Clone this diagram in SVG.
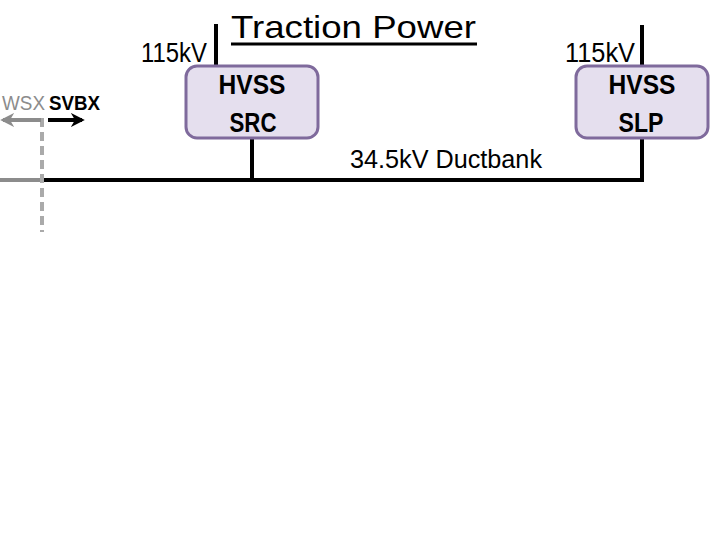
<svg xmlns="http://www.w3.org/2000/svg" width="720" height="540" viewBox="0 0 720 540">
<style>
text{font-family:"Liberation Sans","Open Sans",sans-serif;}
.box{fill:#e5dfee;stroke:#7f6a9c;stroke-width:3;}
.lbl{font-weight:bold;font-size:27px;fill:#000;text-anchor:middle;}
.kv{font-size:27px;fill:#000;}
.ln{stroke:#000;stroke-width:4;fill:none;}
</style>
<defs>
<marker id="ab" viewBox="0 0 10 10" refX="8" refY="5" markerWidth="3.5" markerHeight="3.5" orient="auto"><path d="M0,0 L10,5 L0,10 L3,5 z" fill="#000"/></marker>
<marker id="ag" viewBox="0 0 10 10" refX="8" refY="5" markerWidth="3.5" markerHeight="3.5" orient="auto"><path d="M0,0 L10,5 L0,10 L3,5 z" fill="#8c8c8c"/></marker>
</defs>
<rect width="720" height="540" fill="#fff"/>
<g id="title">
<text x="231" y="38" font-size="32" textLength="245" lengthAdjust="spacingAndGlyphs">Traction Power</text>
<line x1="231" y1="44" x2="477" y2="44" stroke="#000" stroke-width="3"/>
</g>
<g id="connectors">
<line class="ln" x1="216" y1="24" x2="216" y2="66"/>
<line class="ln" x1="642" y1="25" x2="642" y2="66"/>
<line class="ln" x1="252" y1="138" x2="252" y2="180"/>
<polyline class="ln" points="42,180 642,180 642,138"/>
<line x1="0" y1="180" x2="42" y2="180" stroke="#8c8c8c" stroke-width="4"/>
<line x1="42" y1="118" x2="42" y2="232" stroke="#aaaaaa" stroke-width="4" stroke-dasharray="9,5"/>
<line x1="41" y1="120" x2="3" y2="120" stroke="#8c8c8c" stroke-width="4" marker-end="url(#ag)"/>
<line x1="48" y1="120" x2="82" y2="120" stroke="#000" stroke-width="4" marker-end="url(#ab)"/>
</g>
<g id="src">
<rect class="box" x="186" y="66" width="132" height="72" rx="11"/>
<text class="lbl" x="252" y="94" textLength="67" lengthAdjust="spacingAndGlyphs">HVSS</text>
<text class="lbl" x="253" y="132" textLength="47" lengthAdjust="spacingAndGlyphs">SRC</text>
<text class="kv" x="141" y="62" textLength="66" lengthAdjust="spacingAndGlyphs">115kV</text>
</g>
<g id="slp">
<rect class="box" x="576" y="66" width="132" height="72" rx="11"/>
<text class="lbl" x="642" y="94" textLength="67" lengthAdjust="spacingAndGlyphs">HVSS</text>
<text class="lbl" x="641" y="132" textLength="45" lengthAdjust="spacingAndGlyphs">SLP</text>
<text class="kv" x="565" y="62" textLength="70" lengthAdjust="spacingAndGlyphs">115kV</text>
</g>
<g id="labels">
<text x="350" y="168" font-size="25" textLength="192" lengthAdjust="spacingAndGlyphs">34.5kV Ductbank</text>
<text x="2" y="110" font-size="21" fill="#8c8c8c" textLength="43" lengthAdjust="spacingAndGlyphs">WSX</text>
<text x="49" y="110" font-size="21" font-weight="bold" fill="#000" textLength="51" lengthAdjust="spacingAndGlyphs">SVBX</text>
</g>
</svg>
